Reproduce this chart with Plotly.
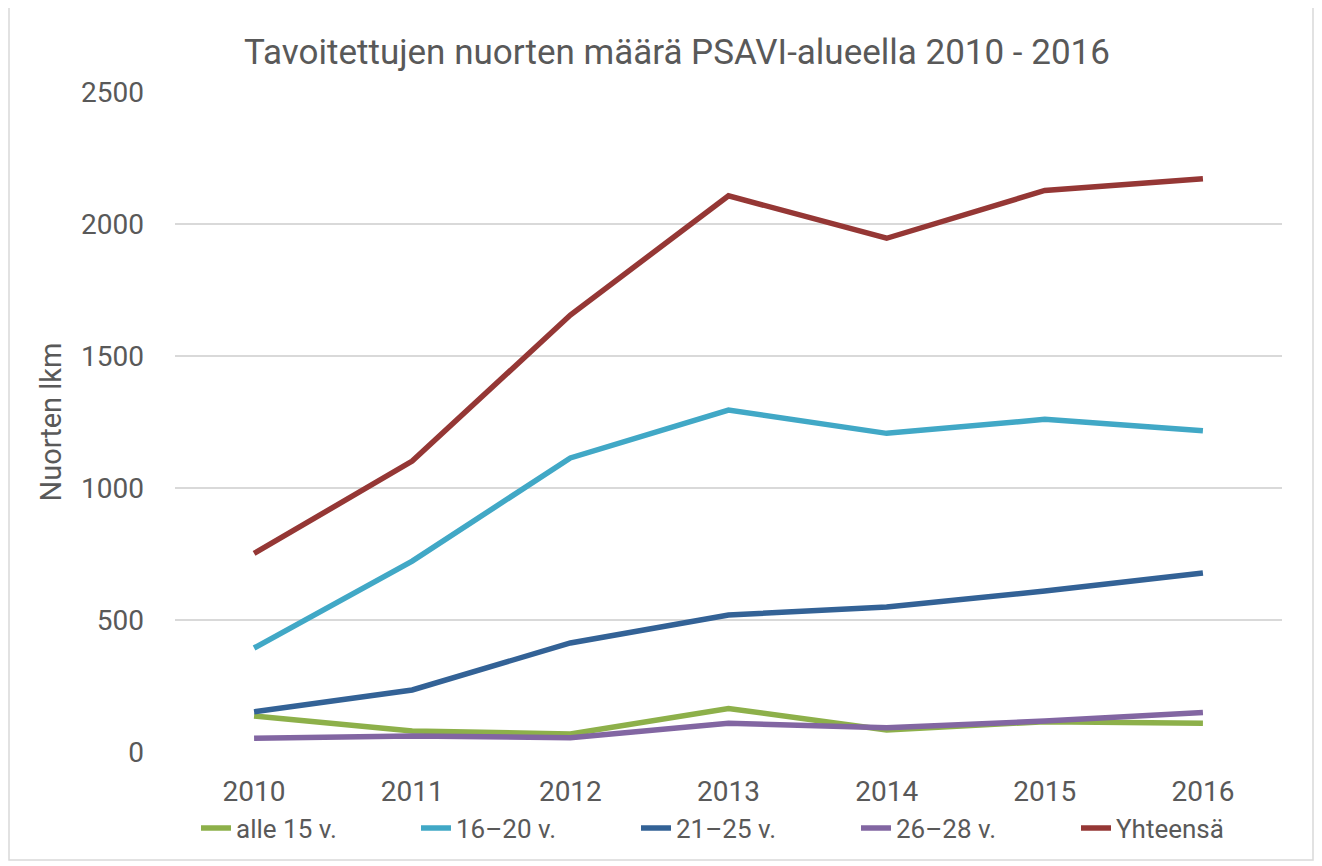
import plotly.graph_objects as go

years = ["2010", "2011", "2012", "2013", "2014", "2015", "2016"]
alle15 = [136, 80, 68, 165, 83, 115, 109]
v16_20 = [394, 723, 1114, 1295, 1207, 1260, 1217]
v21_25 = [152, 235, 413, 519, 549, 610, 678]
v26_28 = [52, 61, 54, 109, 92, 117, 150]
yhteensa = [752, 1102, 1655, 2107, 1946, 2127, 2171]

series = [
    ("alle 15 v.", alle15, "#8DB04A"),
    ("16–20 v.", v16_20, "#41A8C6"),
    ("21–25 v.", v21_25, "#336296"),
    ("26–28 v.", v26_28, "#8266A2"),
    ("Yhteensä", yhteensa, "#953735"),
]

FONT = "Roboto, Arial, sans-serif"
GREY = "#595959"

fig = go.Figure()
for name, vals, col in series:
    fig.add_trace(go.Scatter(x=years, y=vals, name=name, mode="lines",
                             line=dict(color=col, width=5.5)))

OFF = 8  # default page body margin
W, H = 1322 - OFF, 866 - OFF
L, T = 175 - OFF, 92 - OFF
R = W - (1282 - OFF)
B = H - (752 - OFF)
pw, ph = W - L - R, H - T - B

def px_x(x):
    return (x - OFF - L) / pw

def px_y(y):
    return (H - B - (y - OFF)) / ph

fig.update_layout(
    width=W, height=H,
    margin=dict(l=L, r=R, t=T, b=B, autoexpand=False),
    paper_bgcolor="white", plot_bgcolor="white",
    font=dict(family=FONT, color=GREY, size=22),
    title=dict(text="Tavoitettujen nuorten määrä PSAVI-alueella 2010 - 2016",
               x=(677 - OFF) / W, xanchor="center", y=1 - (52 - OFF) / H, yanchor="middle",
               xref="container", yref="container",
               font=dict(size=35, color=GREY, family=FONT)),
    xaxis=dict(showgrid=False, showline=False, zeroline=False, range=[-0.5, 6.5],
               ticks="", ticklabelstandoff=20, tickfont=dict(size=28),
               automargin=False),
    yaxis=dict(range=[0, 2500], dtick=500, showgrid=True, gridcolor="#D9D9D9",
               gridwidth=1.5, zeroline=False, showline=False, ticks="",
               ticklabelstandoff=30, tickfont=dict(size=28), automargin=False,
               title=dict(text="Nuorten lkm", font=dict(size=29), standoff=10)),
    legend=dict(orientation="h", xref="container", yref="container",
                x=(196 - OFF) / W, xanchor="left",
                y=1 - (828 - OFF) / H, yanchor="middle",
                font=dict(size=26), traceorder="normal",
                entrywidth=175, entrywidthmode="pixels"),
    showlegend=True,
    shapes=[dict(type="rect", xref="paper", yref="paper",
                 x0=px_x(9), x1=px_x(1313),
                 y0=px_y(860), y1=px_y(7),
                 line=dict(color="#D9D9D9", width=1.5), fillcolor="rgba(0,0,0,0)",
                 layer="below")],
)

fig.write_html("out.html")
